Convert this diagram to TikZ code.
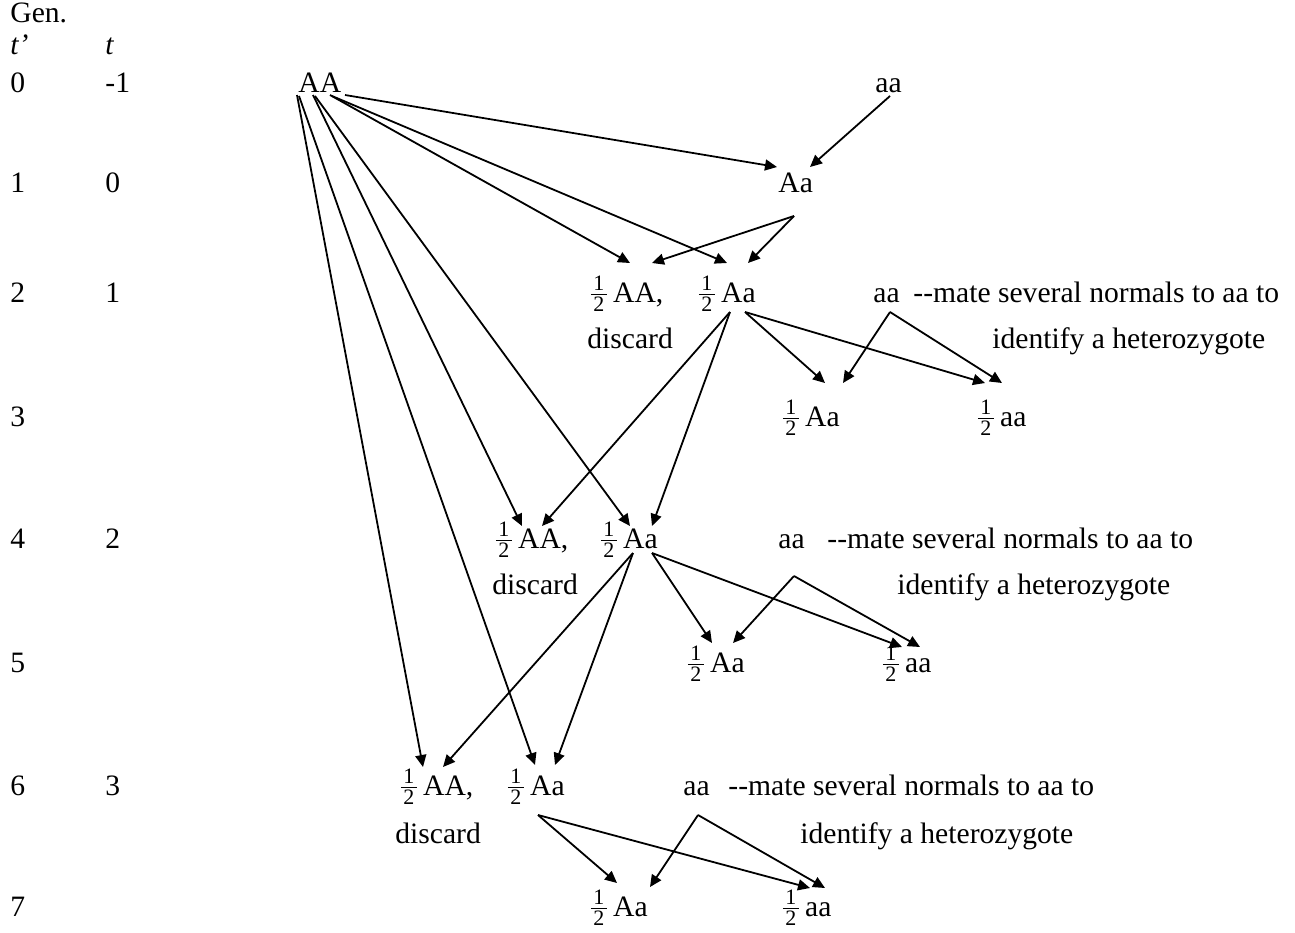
\documentclass[tikz,border=0pt]{standalone}
\usepackage{fontspec}
\setmainfont{Liberation Serif}
\usepackage{amsmath}
\usetikzlibrary{arrows.meta,calc}
\newcommand{\fracdigit}[1]{\mbox{\hbox to 8pt{\hss\fontsize{11}{11}\selectfont #1\hss}}}
\newcommand{\myhalf}{\ensuremath{\frac{\fracdigit{1}}{\fracdigit{2}}}\kern2pt}
\begin{document}
\begin{tikzpicture}[x=0.5pt,y=-0.5pt,
  lab/.style={anchor=base west,inner sep=0pt,font=\fontsize{14.8}{17}\selectfont},
  arr/.style={-{Triangle[length=6pt,width=5.5pt]},line width=0.9pt}]
\useasboundingbox (0,0) rectangle (1295,932);
% left columns
\node[lab] (gen) at (10,22) {Gen.};
\node[lab] (tp) at (10,54) {\textit{t’}};
\node[lab] (tt) at (105,54) {\textit{t}};
\node[lab] (L0a) at (10,92) {0};   \node[lab] (L0b) at (105,92) {-1};
\node[lab] (L1a) at (10,192) {1};  \node[lab] (L1b) at (105,192) {0};
\node[lab] (L2a) at (10,302) {2};  \node[lab] (L2b) at (105,302) {1};
\node[lab] (L3a) at (10,426) {3};
\node[lab] (L4a) at (10,548) {4};  \node[lab] (L4b) at (105,548) {2};
\node[lab] (L5a) at (10,672) {5};
\node[lab] (L6a) at (10,795) {6};  \node[lab] (L6b) at (105,795) {3};
\node[lab] (L7a) at (10,916) {7};
% genotype nodes
\node[lab] (AA0) at (298,92) {AA};
\node[lab] (aa0) at (875,92) {aa};
\node[lab] (Aa1) at (778,192) {Aa};
\node[lab] (AA2) at (588,302) {\myhalf AA,};
\node[lab] (dis2) at (587,348) {discard};
\node[lab] (Aa2) at (696,302) {\myhalf Aa};
\node[lab] (aa2) at (873,302) {aa};
\node[lab] (m2) at (913,302) {-{}-mate several normals to aa to};
\node[lab] (id2) at (992,348) {identify a heterozygote};
\node[lab] (Aa3) at (780,426) {\myhalf Aa};
\node[lab] (aa3) at (975,426) {\myhalf aa};
\node[lab] (AA4) at (493,548) {\myhalf AA,};
\node[lab] (dis4) at (492,594) {discard};
\node[lab] (Aa4) at (598,548) {\myhalf Aa};
\node[lab] (aa4) at (778,548) {aa};
\node[lab] (m4) at (827,548) {-{}-mate several normals to aa to};
\node[lab] (id4) at (897,594) {identify a heterozygote};
\node[lab] (Aa5) at (685,672) {\myhalf Aa};
\node[lab] (aa5) at (880,672) {\myhalf aa};
\node[lab] (AA6) at (398,795) {\myhalf AA,};
\node[lab] (dis6) at (395,843) {discard};
\node[lab] (Aa6) at (505,795) {\myhalf Aa};
\node[lab] (aa6) at (683,795) {aa};
\node[lab] (m6) at (728,795) {-{}-mate several normals to aa to};
\node[lab] (id6) at (800,843) {identify a heterozygote};
\node[lab] (Aa7) at (588,916) {\myhalf Aa};
\node[lab] (aa7) at (780,916) {\myhalf aa};
% connectors
\draw[arr] ($(AA0.base west)+(47,3)$) -- ($(Aa1.base west)+(-1,-25)$);
\draw[arr] ($(aa0.base west)+(15,4)$) -- ($(Aa1.base west)+(32,-25)$);
\draw[arr] ($(AA0.base west)+(32,3)$) -- ($(AA2.base west)+(42,-39)$);
\draw[arr] ($(AA0.base west)+(34,4)$) -- ($(Aa2.base west)+(31,-39)$);
\draw[arr] ($(Aa1.base west)+(16,24)$) -- ($(AA2.base west)+(64,-39)$);
\draw[arr] ($(Aa1.base west)+(16,24)$) -- ($(Aa2.base west)+(52,-39)$);
\draw[arr] ($(Aa2.base west)+(49,10)$) -- ($(Aa3.base west)+(45,-43)$);
\draw[arr] ($(Aa2.base west)+(49,10)$) -- ($(aa3.base west)+(10,-43)$);
\draw[arr] ($(aa2.base west)+(17,10)$) -- ($(Aa3.base west)+(63,-43)$);
\draw[arr] ($(aa2.base west)+(17,10)$) -- ($(aa3.base west)+(27,-43)$);
\draw[arr] ($(Aa2.base west)+(34,10)$) -- ($(AA4.base west)+(49,-22)$);
\draw[arr] ($(Aa2.base west)+(34,10)$) -- ($(Aa4.base west)+(54,-22)$);
\draw[arr] ($(AA0.base west)+(15,3)$) -- ($(AA4.base west)+(29,-22)$);
\draw[arr] ($(AA0.base west)+(17,4)$) -- ($(Aa4.base west)+(32,-22)$);
\draw[arr] ($(Aa4.base west)+(35,5)$) -- ($(AA6.base west)+(45,-28)$);
\draw[arr] ($(Aa4.base west)+(35,5)$) -- ($(Aa6.base west)+(50,-30)$);
\draw[arr] ($(Aa4.base west)+(54,5)$) -- ($(Aa5.base west)+(27,-29)$);
\draw[arr] ($(Aa4.base west)+(54,5)$) -- ($(aa5.base west)+(22,-25)$);
\draw[arr] ($(aa4.base west)+(16,28)$) -- ($(Aa5.base west)+(48,-29)$);
\draw[arr] ($(aa4.base west)+(16,28)$) -- ($(aa5.base west)+(40,-25)$);
\draw[arr] ($(AA0.base west)+(-1,3)$) -- ($(AA6.base west)+(25,-28)$);
\draw[arr] ($(AA0.base west)+(1,4)$) -- ($(Aa6.base west)+(30,-30)$);
\draw[arr] ($(Aa6.base west)+(33,20)$) -- ($(Aa7.base west)+(29,-33)$);
\draw[arr] ($(Aa6.base west)+(33,20)$) -- ($(aa7.base west)+(30,-28)$);
\draw[arr] ($(aa6.base west)+(15,20)$) -- ($(Aa7.base west)+(62,-29)$);
\draw[arr] ($(aa6.base west)+(15,20)$) -- ($(aa7.base west)+(45,-28)$);
\end{tikzpicture}
\end{document}
